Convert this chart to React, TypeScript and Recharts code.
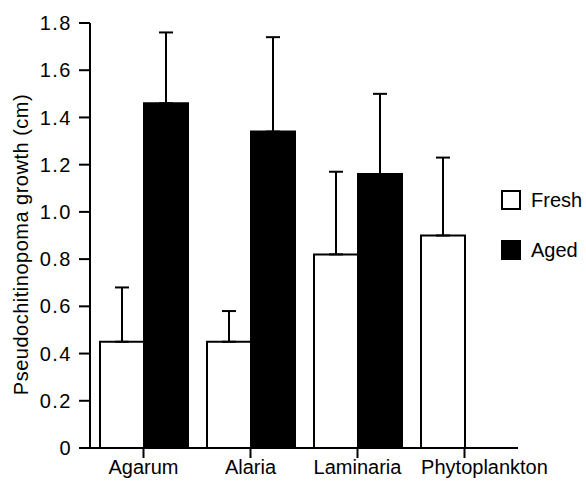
import { BarChart, Bar, XAxis, YAxis, ErrorBar, Legend } from 'recharts';

const categories = ['Agarum', 'Alaria', 'Laminaria', 'Phytoplankton'];
const freshMeans = [0.45, 0.45, 0.82, 0.9];
const agedMeans: (number | null)[] = [1.46, 1.34, 1.16, null];
const freshSE = [0.23, 0.13, 0.35, 0.33];
const agedSE: (number | null)[] = [0.3, 0.4, 0.34, null];
const yTicks = [0, 0.2, 0.4, 0.6, 0.8, 1.0, 1.2, 1.4, 1.6, 1.8];

const FONT = '"Liberation Sans", Arial, Helvetica, sans-serif';

const chartData = categories.map((name, i) => ({
    name,
    fresh: freshMeans[i],
    aged: agedMeans[i],
    // upward-only error bars
    freshErr: [0, freshSE[i]],
    agedErr: agedSE[i] == null ? null : [0, agedSE[i]],
}));

const LegendBox = () => (
    <div style={{ fontFamily: FONT, fontSize: 20, color: '#000' }}>
        <div style={{ display: 'flex', alignItems: 'center', height: 20, marginBottom: 30 }}>
            <span style={{ width: 16, height: 16, border: '2px solid #000', background: '#fff', display: 'inline-block' }} />
            <span style={{ marginLeft: 10 }}>Fresh</span>
        </div>
        <div style={{ display: 'flex', alignItems: 'center', height: 20 }}>
            <span style={{ width: 20, height: 20, background: '#000', display: 'inline-block' }} />
            <span style={{ marginLeft: 10 }}>Aged</span>
        </div>
    </div>
);

const YLabel = (props: any) => {
    const { viewBox } = props;
    const cx = 21;
    const cy = viewBox.y + viewBox.height / 2 + 9;
    return (
        <text
            x={cx}
            y={cy}
            transform={`rotate(-90, ${cx}, ${cy})`}
            textAnchor="middle"
            dominantBaseline="central"
            fontFamily={FONT}
            fontSize={20}
            letterSpacing={0.5}
            fill="#000"
        >
            Pseudochitinopoma growth (cm)
        </text>
    );
};

// last label sits a little to the right of its tick, as in the original
const XTick = (props: any) => {
    const { x, y, payload, index } = props;
    const shift = index === categories.length - 1 ? 20 : 0;
    return (
        <text x={x + shift} y={y} dy="0.71em" textAnchor="middle" fontFamily={FONT} fontSize={20} fill="#000">
            {payload.value}
        </text>
    );
};

export default function App() {
    return (
        <div style={{ position: 'absolute', left: 0, top: 0, width: 586, height: 485, background: '#fff' }}>
            <BarChart
                width={586}
                height={485}
                data={chartData}
                margin={{ top: 23, right: 68, left: 0, bottom: 0 }}
                barCategoryGap={10}
                barGap={0}
            >
                <XAxis
                    dataKey="name"
                    height={37}
                    axisLine={{ stroke: '#000', strokeWidth: 2 }}
                    tickLine={{ stroke: '#000', strokeWidth: 2 }}
                    tickSize={10}
                    tick={<XTick />}
                    interval={0}
                />
                <YAxis
                    width={90}
                    domain={[0, 1.8]}
                    ticks={yTicks}
                    interval={0}
                    axisLine={{ stroke: '#000', strokeWidth: 2 }}
                    tickLine={{ stroke: '#000', strokeWidth: 2 }}
                    tickSize={11}
                    tickMargin={7}
                    tick={{ fill: '#000', fontSize: 20, fontFamily: FONT, letterSpacing: 1.5 }}
                    tickFormatter={(v: number) => (v === 0 ? '0' : v.toFixed(1))}
                    label={<YLabel />}
                />
                <Legend
                    layout="vertical"
                    align="center"
                    verticalAlign="middle"
                    content={<LegendBox />}
                    wrapperStyle={{ left: 501, top: 190, width: 85, height: 80 }}
                />
                <Bar dataKey="fresh" name="Fresh" fill="#fff" stroke="#000" strokeWidth={2} isAnimationActive={false}>
                    <ErrorBar dataKey="freshErr" width={7} stroke="#000" strokeWidth={2} direction="y" isAnimationActive={false} />
                </Bar>
                <Bar dataKey="aged" name="Aged" fill="#000" stroke="#000" strokeWidth={2} isAnimationActive={false}>
                    <ErrorBar dataKey="agedErr" width={7} stroke="#000" strokeWidth={2} direction="y" isAnimationActive={false} />
                </Bar>
            </BarChart>
        </div>
    );
}
